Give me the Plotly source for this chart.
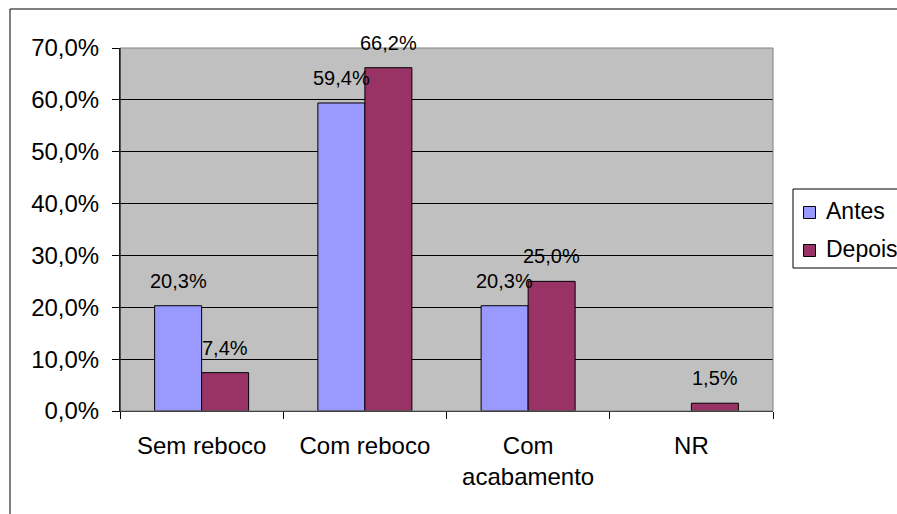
import plotly.graph_objects as go

categories = ["Sem reboco", "Com reboco", "Com<br>acabamento", "NR"]
antes = [0.203, 0.594, 0.203, None]
depois = [0.074, 0.662, 0.250, 0.015]
series_names = ["Antes", "Depois"]
series_colors = ["#9999FF", "#993366"]
y_ticks = [0.0, 0.1, 0.2, 0.3, 0.4, 0.5, 0.6, 0.7]

FONT = "Liberation Sans, Arial, sans-serif"

# plot area in pixels
W, H = 897, 514
L, R, T, B = 120, 773, 48, 411
pw, ph = R - L, B - T


def px(x):
    return (x - L) / pw


def py(y):
    return (B - y) / ph


fig = go.Figure()
for name, vals, col in zip(series_names, [antes, depois], series_colors):
    fig.add_trace(go.Bar(
        x=categories, y=vals, name=name, showlegend=False,
        marker=dict(color=col, line=dict(color="black", width=1)),
    ))

# value labels above each bar
bargap = 0.424
group_w = pw / len(categories) * (1 - bargap)
bar_w = group_w / 2
annotations = []
for i, vals in enumerate([antes, depois]):
    off = (i - 0.5) * bar_w
    for c, v in zip(categories, vals):
        if v is None:
            continue
        annotations.append(dict(
            x=c, y=v, xref="x", yref="y", text=f"{v*100:.1f}%".replace(".", ","),
            showarrow=False, xshift=off, yshift=12, yanchor="bottom",
            font=dict(family=FONT, size=20, color="black"),
        ))

shapes = [
    # outer chart frame
    dict(type="rect", xref="paper", yref="paper",
         x0=px(10), x1=px(W + 20), y0=py(H + 20), y1=py(9),
         line=dict(color="black", width=1), fillcolor="rgba(0,0,0,0)", layer="above"),
    # plot area frame (top / right in gray)
    dict(type="rect", xref="paper", yref="paper", x0=0, x1=1, y0=0, y1=1,
         line=dict(color="#808080", width=1), fillcolor="rgba(0,0,0,0)", layer="above"),
    # y axis line
    dict(type="line", xref="paper", yref="paper", x0=0, x1=0, y0=0, y1=1,
         line=dict(color="black", width=1), layer="above"),
    # legend box
    dict(type="rect", xref="paper", yref="paper",
         x0=px(793), x1=px(W + 20), y0=py(268), y1=py(189),
         line=dict(color="black", width=1), fillcolor="white", layer="above"),
]

# legend entries
legend_rows = [212.5, 250.5]
for name, col, yc in zip(series_names, series_colors, legend_rows):
    shapes.append(dict(
        type="rect", xref="paper", yref="paper",
        x0=px(803.5), x1=px(815.5), y0=py(yc + 6), y1=py(yc - 6),
        line=dict(color="black", width=1), fillcolor=col, layer="above",
    ))
    annotations.append(dict(
        x=px(824), y=py(yc - 2), xref="paper", yref="paper", text=name,
        showarrow=False, xanchor="left", yanchor="middle",
        font=dict(family=FONT, size=23, color="black"),
    ))

fig.update_layout(
    width=W, height=H,
    margin=dict(l=L, r=W - R, t=T, b=H - B, pad=0),
    paper_bgcolor="white", plot_bgcolor="#C0C0C0",
    separators=", ",
    barmode="group", bargap=bargap, bargroupgap=0,
    font=dict(family=FONT, size=24, color="black"),
    showlegend=False,
    annotations=annotations,
    shapes=shapes,
)
fig.update_xaxes(
    type="category", tickson="boundaries",
    ticks="outside", ticklen=7, tickcolor="black", tickwidth=1,
    showline=True, linecolor="black", linewidth=1,
    showgrid=False, ticklabelstandoff=13,
    tickfont=dict(family=FONT, size=24, color="black"),
)
fig.update_yaxes(
    range=[0, 0.7], tickvals=y_ticks, tickformat=".1%",
    ticks="outside", ticklen=7, tickcolor="black", tickwidth=1,
    showline=True, linecolor="black", linewidth=1,
    showgrid=True, gridcolor="black", gridwidth=1, zeroline=False,
    ticklabelstandoff=8,
    tickfont=dict(family=FONT, size=24, color="black"),
)

fig.write_html("out.html")
